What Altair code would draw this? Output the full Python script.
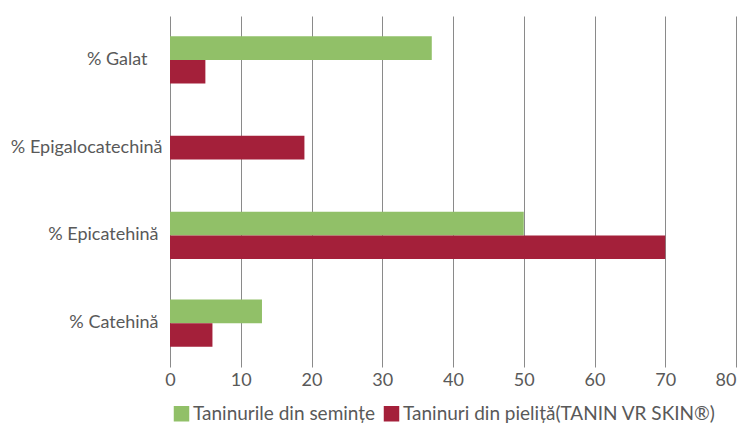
import altair as alt
import pandas as pd

categories = ["% Galat", "% Epigalocatechină", "% Epicatehină", "% Catehină"]
series_names = ["Taninurile din semințe", "Taninuri din pieliță(TANIN VR SKIN®)"]
seed_values = [37, None, 50, 13]
skin_values = [5, 19, 70, 6]
colors = ["#91C068", "#A4203A"]
x_ticks = [0, 10, 20, 30, 40, 50, 60, 70, 80]

rows = []
for cat, s, k in zip(categories, seed_values, skin_values):
    if s is not None:
        rows.append({"cat": cat, "series": series_names[0], "value": s})
    if k is not None:
        rows.append({"cat": cat, "series": series_names[1], "value": k})
df = pd.DataFrame(rows)

FONT = "Lato"
y_enc = alt.Y("cat:N", sort=categories, title=None,
              scale=alt.Scale(paddingInner=0.46, paddingOuter=0.23),
              axis=alt.Axis(ticks=False, domain=False, labelFontSize=18, labelColor="#595959",
                            labelFont=FONT, labelLimit=300,
                            labelPadding={"condition": [
                                {"test": "datum.value == '% Galat'", "value": 23},
                                {"test": "datum.value != '% Epigalocatechină'", "value": 12}],
                                "value": 8}))
x_enc = alt.X("value:Q", title=None, scale=alt.Scale(domain=[0, 80]),
              axis=alt.Axis(values=x_ticks, grid=True, gridColor="#8a8a8a", gridWidth=1,
                            domain=False, ticks=False, labelFontSize=18, labelColor="#595959",
                            labelFont=FONT, labelPadding=4,
                            labelAlign={"condition": {"test": "datum.value == 80", "value": "right"},
                                        "value": "center"}))
color_enc = alt.Color("series:N", sort=series_names, title=None,
                      scale=alt.Scale(domain=series_names, range=colors),
                      legend=alt.Legend(orient="none", legendX=2, legendY=388, direction="horizontal",
                                        symbolType="square", symbolSize=240, symbolStrokeWidth=0,
                                        labelFontSize=19, labelColor="#595959", labelFont=FONT,
                                        labelOffset=2, columnPadding=6, labelLimit=500))

base = alt.Chart(df).transform_joinaggregate(n="count()", groupby=["cat"])

paired = base.transform_filter("datum.n == 2").mark_bar().encode(
    x=x_enc, y=y_enc, color=color_enc,
    yOffset=alt.YOffset("series:N", sort=series_names, scale=alt.Scale(domain=series_names)),
)
single = base.transform_filter("datum.n == 1").mark_bar(size=23.7).encode(
    x=x_enc, y=y_enc, color=color_enc,
)

chart = alt.layer(paired, single).properties(
    width=566, height=351,
    autosize=alt.AutoSizeParams(type="none"),
    padding={"left": 162, "top": 8, "right": 1, "bottom": 57},
).configure_view(stroke=None)

chart.save("out.html", embed_options={"renderer": "svg", "actions": False})
